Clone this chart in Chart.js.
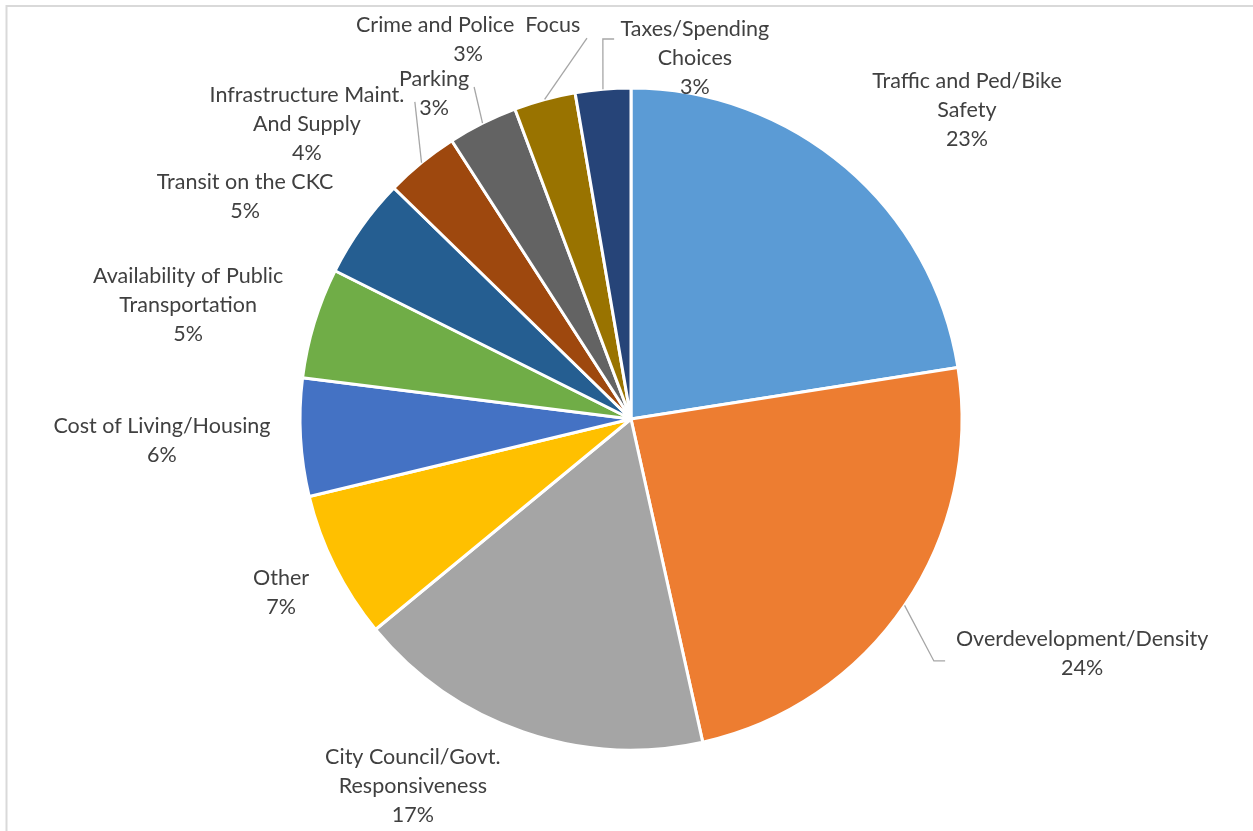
<!DOCTYPE html>
<html>
<head>
<meta charset="utf-8">
<script src="https://cdn.jsdelivr.net/npm/chart.js@4/dist/chart.umd.min.js"></script>
<style>
  html, body { margin: 0; padding: 0; background: #ffffff; }
  #wrap { position: relative; width: 1253px; height: 831px; }
  canvas { display: block; }
</style>
</head>
<body>
<div id="wrap"><canvas id="c" width="1253" height="831"></canvas></div>
<script>
// ---- Data ----
const categories = [
  "Traffic and Ped/Bike Safety",
  "Overdevelopment/Density",
  "City Council/Govt. Responsiveness",
  "Other",
  "Cost of Living/Housing",
  "Availability of Public Transportation",
  "Transit on the CKC",
  "Infrastructure Maint. And Supply",
  "Parking",
  "Crime and Police  Focus",
  "Taxes/Spending Choices"
];
const shares = [22.5, 24.0, 17.5, 7.2, 5.75, 5.4, 4.9, 3.6, 3.4, 3.0, 2.7];
const percentLabels = ["23%", "24%", "17%", "7%", "6%", "5%", "5%", "4%", "3%", "3%", "3%"];

// ---- Styles / layout ----
const sliceColors = ["#5B9BD5", "#ED7D31", "#A5A5A5", "#FFC000", "#4472C4", "#70AD47",
                     "#255E91", "#9E480E", "#636363", "#997300", "#264478"];
const labelWrap = [
  ["Traffic and Ped/Bike", "Safety"],
  ["Overdevelopment/Density"],
  ["City Council/Govt.", "Responsiveness"],
  ["Other"],
  ["Cost of Living/Housing"],
  ["Availability of Public", "Transportation"],
  ["Transit on the CKC"],
  ["Infrastructure Maint.", "And Supply"],
  ["Parking"],
  ["Crime and Police  Focus"],
  ["Taxes/Spending", "Choices"]
];
// label block centres, relative to pie centre, in units of the radius
const labelPos = [
  [1.015, -0.934], [1.363, 0.710], [-0.659, 1.109], [-1.057, 0.523],
  [-1.417, 0.066], [-1.338, -0.344], [-1.166, -0.671], [-0.979, -0.891],
  [-0.595, -0.982], [-0.492, -1.145], [0.193, -1.091]
];
// leader line start points (relative, radius units); they end on the slice's outer mid point
const leaders = {
  1: [[0.949, 0.731], [0.915, 0.731]],
  7: [[-0.653, -0.958]],
  8: [[-0.474, -1.003]],
  9: [[-0.133, -1.151]],
  10: [[-0.051, -1.148], [-0.085, -1.148]]
};
const FONT = '21.5px Lato, "Open Sans", sans-serif';
const LINE_H = 29;

const framePlugin = {
  id: 'frame',
  beforeDraw(chart) {
    const ctx = chart.ctx;
    ctx.save();
    ctx.fillStyle = '#ffffff';
    ctx.fillRect(0, 0, chart.width, chart.height);
    ctx.strokeStyle = '#D9D9D9';
    ctx.lineWidth = 2;
    ctx.beginPath();
    ctx.moveTo(6.5, chart.height);
    ctx.lineTo(6.5, 6);
    ctx.lineTo(chart.width, 6);
    ctx.stroke();
    ctx.restore();
  }
};

const labelPlugin = {
  id: 'pieLabels',
  afterDatasetsDraw(chart) {
    const ctx = chart.ctx;
    const meta = chart.getDatasetMeta(0);
    ctx.save();
    meta.data.forEach((arc, i) => {
      const p = arc.getProps(['x', 'y', 'startAngle', 'endAngle', 'outerRadius'], true);
      const cx = p.x, cy = p.y, R = p.outerRadius;
      // leader line
      if (leaders[i]) {
        const mid = (p.startAngle + p.endAngle) / 2;
        const ex = cx + Math.cos(mid) * R, ey = cy + Math.sin(mid) * R;
        const pts = leaders[i].map(q => [cx + q[0] * R, cy + q[1] * R]);
        ctx.strokeStyle = '#A6A6A6';
        ctx.lineWidth = 1.3;
        ctx.beginPath();
        ctx.moveTo(pts[0][0], pts[0][1]);
        for (let k = 1; k < pts.length; k++) ctx.lineTo(pts[k][0], pts[k][1]);
        ctx.lineTo(ex, ey);
        ctx.stroke();
      }
      // text
      const lines = labelWrap[i].concat([percentLabels[i]]);
      const lx = cx + labelPos[i][0] * R;
      const ly = cy + labelPos[i][1] * R;
      ctx.fillStyle = '#404040';
      ctx.font = FONT;
      ctx.textAlign = 'center';
      ctx.textBaseline = 'middle';
      const top = ly - (lines.length - 1) * LINE_H / 2;
      lines.forEach((t, k) => ctx.fillText(t, lx, top + k * LINE_H));
    });
    ctx.restore();
  }
};

new Chart(document.getElementById('c'), {
  type: 'pie',
  data: {
    labels: categories,
    datasets: [{
      data: shares,
      backgroundColor: sliceColors,
      borderColor: '#ffffff',
      borderWidth: 3
    }]
  },
  options: {
    responsive: false,
    devicePixelRatio: 1,
    animation: false,
    layout: { padding: { left: 298.5, right: 289.5, top: 86.5, bottom: 79.5 } },
    plugins: {
      legend: { display: false },
      tooltip: { enabled: false },
      title: { display: false }
    }
  },
  plugins: [framePlugin, labelPlugin]
});
</script>
</body>
</html>
